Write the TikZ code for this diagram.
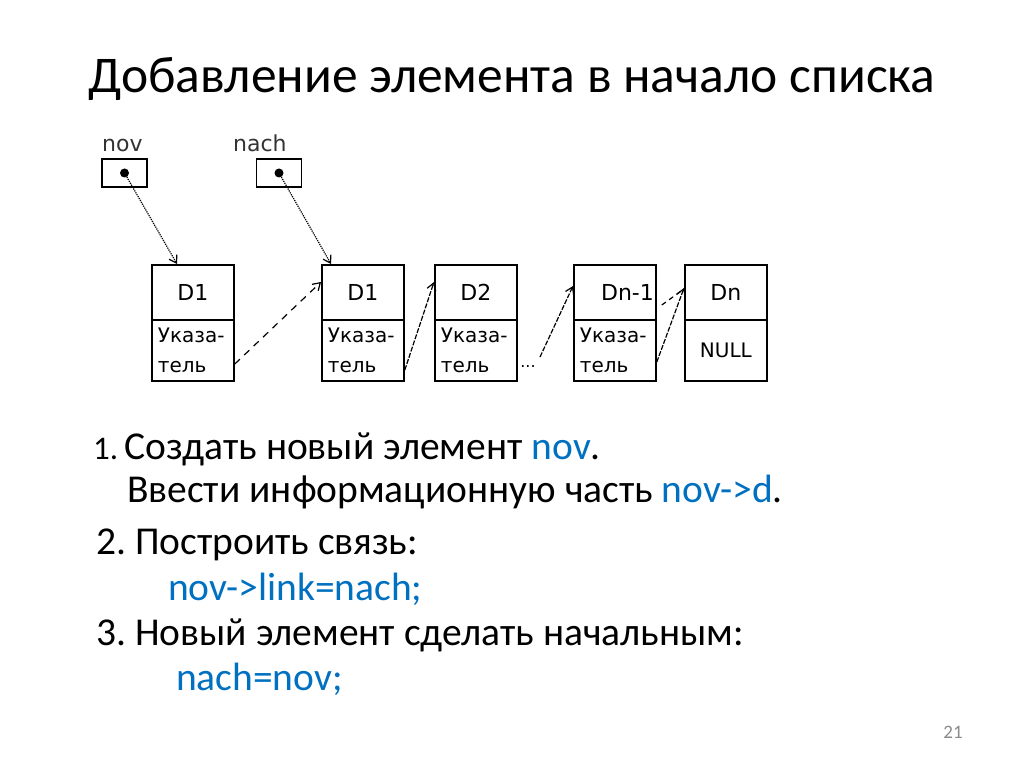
\documentclass[tikz,border=0pt]{standalone}
\usepackage{fontspec}
\setmainfont{Carlito}
\newfontfamily\diag{DejaVu Sans}
\usetikzlibrary{arrows.meta,calc}
\definecolor{blu}{HTML}{0070C0}
\definecolor{pgnum}{HTML}{8A8A8A}
\frenchspacing
\begin{document}
\begin{tikzpicture}[x=1pt,y=-1pt,
 cell/.style={draw, line width=1.8pt, minimum width=82pt, inner sep=0pt, anchor=north west, font=\diag\fontsize{20}{30}\selectfont},
 celltop/.style={cell, minimum height=55pt, font=\diag\fontsize{22}{26}\selectfont},
 cellbot/.style={cell, minimum height=61pt, inner xsep=6pt, text width=70pt, align=left},
 ptrbox/.style={draw, line width=1.5pt, minimum width=45pt, minimum height=28pt, inner sep=0pt},
 ptrdot/.style={circle, fill, inner sep=0pt, minimum size=9pt},
 ptrlabel/.style={anchor=base west, inner sep=0pt, text=black!80, font=\diag\fontsize{22}{22}\selectfont},
 link/.style={line width=1.2pt, -{Straight Barb[length=7pt,width=9pt]}},
 body/.style={anchor=base west, inner sep=0pt, font=\fontsize{39.5}{44}\selectfont},
]
\useasboundingbox (0,0) rectangle (1024,767);
\fill[white] (0,0) rectangle (1024,767);

% title
\node[anchor=base, inner sep=0pt, font=\fontsize{51.5}{56}\selectfont] (title) at (512,93) {Добавление элемента в начало списка};

% pointer variables
\node[ptrlabel] (novlab) at (102,152) {nov};
\node[ptrlabel] (nachlab) at (233,152) {nach};
\node[ptrbox] (novbox) at (124.5,173) {};
\node[ptrbox] (nachbox) at (279,173) {};
\node[ptrdot] (novdot) at (novbox.center) {};
\node[ptrdot] (nachdot) at (nachbox.center) {};

% list elements
\node[celltop] (a1) at (151,264) {D1};
\node[cellbot] (a2) at (151,319) {Указа-\\тель};
\node[celltop] (b1) at (321,264) {D1};
\node[cellbot] (b2) at (321,319) {Указа-\\тель};
\node[celltop] (c1) at (434,264) {D2};
\node[cellbot] (c2) at (434,319) {Указа-\\тель};
\node[celltop, text width=78pt, align=right] (e1) at (573,264) {Dn-1};
\node[cellbot] (e2) at (573,319) {Указа-\\тель};
\node[celltop] (f1) at (684,264) {Dn};
\node[cell, minimum height=61pt] (f2) at (684,319) {NULL};

\node[anchor=base, inner sep=0pt, font=\diag\fontsize{16}{16}\selectfont] (dots) at (528,367) {...};

% connectors
\draw[link, densely dotted] (novdot) -- ([xshift=26pt]a1.north west);
\draw[link, densely dotted] (nachdot) -- ([xshift=10pt]b1.north west);

\coordinate (pa) at ($(a2.north east)+(0,45)$);
\coordinate (pb) at ($(b2.north east)+(0,51)$);
\coordinate (pc) at (540,357);
\coordinate (pe) at ($(e2.north east)+(0,43)$);
\coordinate (pold) at ($(e1.north east)+(5,41)$);

\draw[link, dash pattern=on 7pt off 6pt] (pa) -- ($(b1.north west)+(0,18)$);
\draw[link, dash pattern=on 5pt off 1.5pt] (pb) -- ($(c1.north west)+(0,18)$);
\draw[link, dash pattern=on 5pt off 1.5pt] (pc) -- ($(e1.north west)+(0,22)$);
\draw[link, dash pattern=on 5pt off 1.5pt] (pe) -- ($(f1.north west)+(0,24)$);
\draw[line width=1.2pt, dash pattern=on 5pt off 4pt] (pold) -- ($(f1.north west)+(0,25)$);

% body text
\node[anchor=base west, inner sep=0pt, font=\fontsize{33}{38}\selectfont] (n1) at (93,459) {1.};
\node[body] (t1) at (124,459) {Создать новый элемент \textcolor{blu}{nov}.};
\node[body] (t2) at (127,502) {Ввести информационную часть \textcolor{blu}{nov->d}.};
\node[body] (t3) at (96,554.5) {2. Построить связь:};
\node[body, text=blu] (t4) at (168,600.7) {nov->link=nach;};
\node[body] (t5) at (96,645) {3. Новый элемент сделать начальным:};
\node[body, text=blu] (t6) at (176,690.7) {nach=nov;};

\node[anchor=base, inner sep=0pt, text=pgnum, font=\fontsize{19}{19}\selectfont] (pg) at (953,738) {21};
\end{tikzpicture}
\end{document}
